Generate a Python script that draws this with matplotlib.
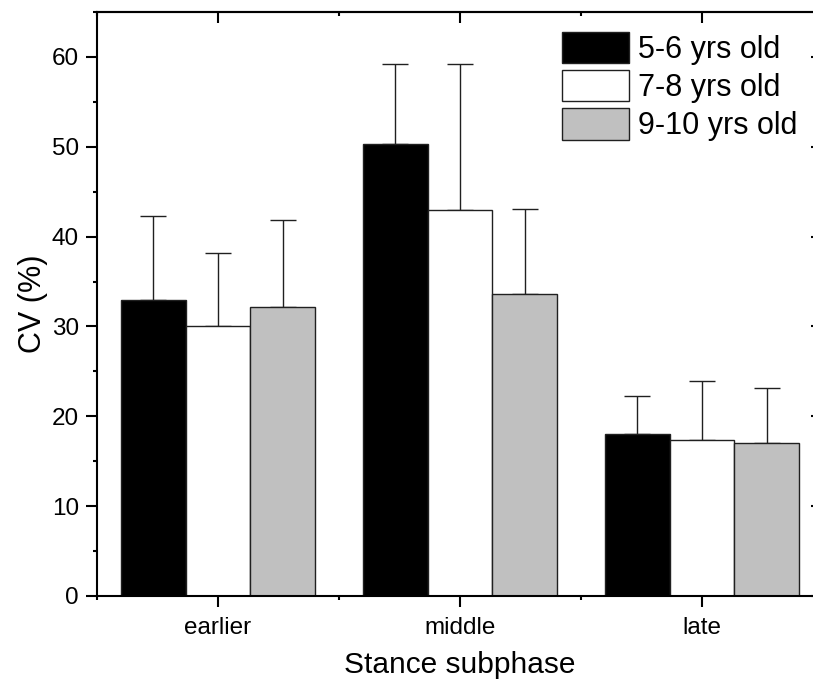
import numpy as np
import matplotlib
matplotlib.use('Agg')
import matplotlib.pyplot as plt
from matplotlib.ticker import MultipleLocator, NullFormatter

plt.rcParams['font.family'] = ['Liberation Sans', 'DejaVu Sans']
plt.rcParams['xtick.labelsize'] = 17.5
plt.rcParams['ytick.labelsize'] = 17.5

# Datos
phases = ['earlier', 'middle', 'late']
groups = ['5-6 yrs old', '7-8 yrs old', '9-10 yrs old']
means = [
    [32.9, 50.3, 18.0],   # 5-6
    [30.0, 43.0, 17.4],   # 7-8
    [32.2, 33.6, 17.0],   # 9-10
]
sds = [
    [9.4, 8.9, 4.3],
    [8.2, 16.2, 6.5],
    [9.6, 9.5, 6.2],
]
colors = ['black', 'white', '#c0c0c0']

W, H = 813, 687
fig = plt.figure(figsize=(W / 100, H / 100), dpi=100)
ax = fig.add_axes([97 / W, 1 - 596 / H, (823 - 97) / W, (596 - 12) / H])

x = np.arange(len(phases))
bw = 0.8 / 3
for i in range(3):
    pos = x + (i - 1) * bw
    ax.bar(pos, means[i], width=bw, color=colors[i], edgecolor='#202020',
           linewidth=1.0, label=groups[i], zorder=2)
    ax.errorbar(pos, means[i], yerr=[np.zeros(3), sds[i]], fmt='none',
                ecolor='#202020', elinewidth=1.0, capsize=9.5, capthick=1.0,
                zorder=1)

ax.set_xlim(-0.5, 2.5)
ax.set_ylim(0, 65)
ax.set_xticks(x)
ax.set_xticklabels(phases)
ax.set_xticks([-0.5, 0.5, 1.5, 2.5], minor=True)
ax.xaxis.set_minor_formatter(NullFormatter())
ax.yaxis.set_major_locator(MultipleLocator(10))
ax.yaxis.set_minor_locator(MultipleLocator(5))

for s in ax.spines.values():
    s.set_linewidth(1.5)

ax.tick_params(which='major', direction='out', length=8, width=1.5)
ax.tick_params(which='minor', direction='out', length=3, width=1.5)
ax.tick_params(axis='y', which='major', pad=5)
ax.tick_params(axis='x', which='major', pad=7)

# marcas hacia dentro arriba y a la derecha
top = ax.secondary_xaxis('top')
top.set_xticks(x)
top.set_xticks([-0.5, 0.5, 1.5, 2.5], minor=True)
top.tick_params(which='major', direction='in', length=8, width=1.5, labeltop=False)
top.tick_params(which='minor', direction='in', length=3, width=1.5)
top.spines['top'].set_linewidth(1.5)
right = ax.secondary_yaxis('right')
right.yaxis.set_major_locator(MultipleLocator(10))
right.yaxis.set_minor_locator(MultipleLocator(5))
right.tick_params(which='major', direction='in', length=9, width=1.5, labelright=False)
right.tick_params(which='minor', direction='in', length=3, width=1.5)
right.spines['right'].set_linewidth(1.5)

ax.set_ylabel('CV (%)', fontsize=22, labelpad=3)
ax.set_xlabel('Stance subphase', fontsize=21.5, labelpad=9)

ax.legend(loc='upper left', bbox_to_anchor=(562 / W, 1 - 32 / H),
          bbox_transform=fig.transFigure, frameon=False, fontsize=22,
          borderpad=0, borderaxespad=0, handlelength=2.2, handleheight=1.2,
          handletextpad=0.3, labelspacing=0.17)

fig.savefig('out.png', dpi=100)
